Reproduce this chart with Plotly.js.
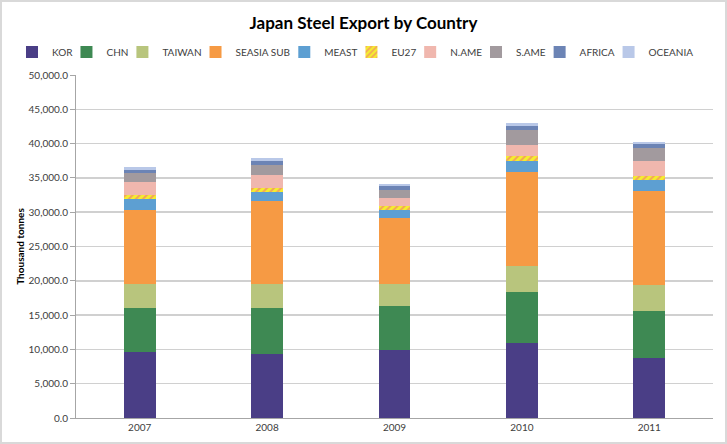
<!DOCTYPE html>
<html>
<head>
<meta charset="utf-8">
<script src="https://cdn.plot.ly/plotly-3.0.1.min.js"></script>
<style>
html,body{margin:0;padding:0;background:#fff;}
#wrap{width:727px;height:444px;box-sizing:border-box;border:2px solid #d9d9d9;overflow:hidden;}
#chart{width:723px;height:440px;}
</style>
</head>
<body>
<div id="wrap"><div id="chart"></div></div>
<script>
var years = ["2007", "2008", "2009", "2010", "2011"];
var seriesNames = ["KOR", "CHN", "TAIWAN", "SEASIA SUB", "MEAST", "EU27", "N.AME", "S.AME", "AFRICA", "OCEANIA"];
var KOR     = [9600, 9300, 9900, 10900, 8800];
var CHN     = [6400, 6700, 6400, 7500, 6800];
var TAIWAN  = [3500, 3600, 3200, 3800, 3800];
var SEASIA  = [10800, 12100, 9600, 13700, 13700];
var MEAST   = [1600, 1200, 1200, 1600, 1600];
var EU27    = [600, 700, 600, 700, 600];
var NAME    = [1900, 1800, 1100, 1600, 2200];
var SAME    = [1300, 1500, 1300, 2200, 1800];
var AFRICA  = [500, 500, 500, 500, 600];
var OCEANIA = [400, 500, 300, 500, 400];
var seriesValues = [KOR, CHN, TAIWAN, SEASIA, MEAST, EU27, NAME, SAME, AFRICA, OCEANIA];
var colors = ["#4a3e86", "#3e8953", "#b8c57d", "#f69a44", "#5d9fd2", "#f4ee2f", "#f0b7ae", "#a29a9e", "#6c84b5", "#b9c8e8"];

var W = 723, H = 440;
var fontFam = "Lato, 'Open Sans', sans-serif";
var ctx = document.createElement("canvas").getContext("2d");
ctx.font = "10px Lato";
var tw = seriesNames.map(function(n){ return ctx.measureText(n).width; });
var symToText = 26, entryGap = 8;
var total = 0;
tw.forEach(function(w, i){ total += symToText + w + (i < tw.length - 1 ? entryGap : 0); });
var cursor = W / 2 - total / 2 - 4;

var layout = {
  width: W, height: H,
  barmode: "stack",
  bargap: 0.75,
  paper_bgcolor: "#ffffff",
  plot_bgcolor: "#ffffff",
  font: {family: fontFam, color: "#404040", size: 10},
  margin: {l: 74, r: 12, t: 73, b: 24},
  title: {text: "<b>Japan Steel Export by Country</b>", x: 0.5, xanchor: "center", y: 0.952, yanchor: "middle", font: {size: 17, color: "#000000", family: fontFam}},
  showlegend: true,
  xaxis: {type: "category", showgrid: false, showline: true, linecolor: "#a6a6a6", linewidth: 1, ticks: "", tickfont: {size: 10, color: "#404040"}, zeroline: false},
  yaxis: {range: [0, 50000], dtick: 5000, tickformat: ",.1f", showgrid: true, gridcolor: "#d0d0d0", gridwidth: 1.5, showline: true, linecolor: "#a6a6a6", linewidth: 1, ticks: "outside", ticklen: 5, tickcolor: "#a6a6a6", tickfont: {size: 10, color: "#404040"}, zeroline: false,
    title: {text: "<b>Thousand tonnes</b>", font: {size: 10, color: "#000000"}, standoff: 2}}
};

var traces = seriesNames.map(function(n, i){
  var m = {color: colors[i], line: {width: 0}};
  if (n === "EU27") {
    m.pattern = {shape: "/", fgcolor: "#f3a35a", bgcolor: "#f4ee2f", size: 5, solidity: 0.4};
  }
  var lname = i === 0 ? "legend" : "legend" + (i + 1);
  layout[lname] = {orientation: "h", xref: "container", yref: "container", x: (cursor - 14) / W, xanchor: "left", y: 1 - 50 / H, yanchor: "middle", font: {size: 10, color: "#404040"}, bgcolor: "rgba(0,0,0,0)", itemwidth: 30};
  cursor += symToText + tw[i] + entryGap;
  return {type: "bar", name: n, x: years, y: seriesValues[i], marker: m, hoverinfo: "none", legend: lname};
});

Plotly.newPlot("chart", traces, layout, {displayModeBar: false, staticPlot: true});
</script>
</body>
</html>
